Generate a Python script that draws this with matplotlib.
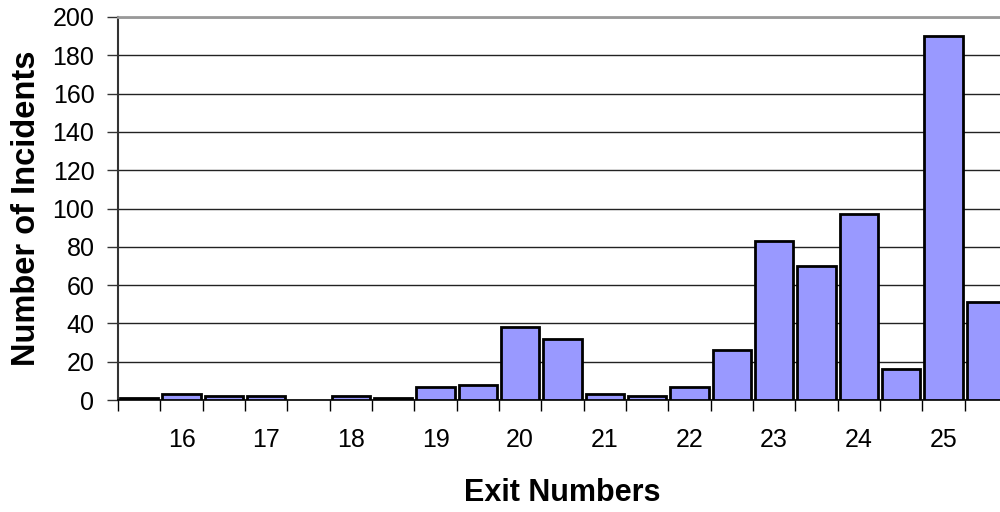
import matplotlib
matplotlib.use("Agg")
import matplotlib.pyplot as plt
import numpy as np

plt.rcParams['font.family'] = ['Liberation Sans', 'DejaVu Sans']

# Incident counts per half-exit segment (segment 0 lies just before exit 16)
incidents = [1, 3, 2, 2, 0, 2, 1, 7, 8, 38, 32, 3, 2, 7, 26, 83, 70, 97, 16, 190, 51]
exit_labels = ["16", "17", "18", "19", "20", "21", "22", "23", "24", "25"]
label_positions = [1, 3, 5, 7, 9, 11, 13, 15, 17, 19]
y_ticks = list(range(0, 201, 20))

fig = plt.figure(figsize=(10, 5.12), dpi=100)
ax = fig.add_axes([0.118, 1 - 400 / 512, 0.889, 383 / 512])

x = np.arange(len(incidents))
lw = [2.0 if v > 0 else 0 for v in incidents]
ax.bar(x, incidents, width=0.9, color='#9999FF', edgecolor='black',
       linewidth=lw, zorder=3)

ax.set_xlim(-0.5, len(incidents) - 0.5)
ax.set_ylim(0, 200)

# category boundaries carry the tick marks, labels sit at segment centres
ax.set_xticks(np.arange(-0.5, len(incidents), 1.0))
ax.set_xticklabels([])
ax.set_xticks(label_positions, exit_labels, minor=True)
ax.tick_params(axis='x', which='major', length=8, width=1, color='black',
               direction='out')
ax.tick_params(axis='x', which='minor', length=0, pad=20, labelsize=18)

ax.set_yticks(y_ticks)
ax.tick_params(axis='y', length=8, width=1, color='#333333', pad=9,
               labelsize=18)

ax.set_axisbelow(True)
ax.yaxis.grid(True, color='#222222', linewidth=1.0)

ax.spines['right'].set_visible(False)
ax.spines['top'].set_color('#999999')
ax.spines['top'].set_linewidth(2)
ax.spines['left'].set_color('#333333')
ax.spines['left'].set_linewidth(1.5)
ax.spines['bottom'].set_color('black')
ax.spines['bottom'].set_linewidth(1.2)

ax.set_xlabel('Exit Numbers', fontsize=22, fontweight='bold', va='center')
ax.xaxis.set_label_coords(0.5, (400 - 493) / 383)
ax.set_ylabel('Number of Incidents', fontsize=23.5, fontweight='bold',
              va='center')
ax.yaxis.set_label_coords((27 - 118) / 889, 0.5)

fig.savefig('out.png', dpi=100)
